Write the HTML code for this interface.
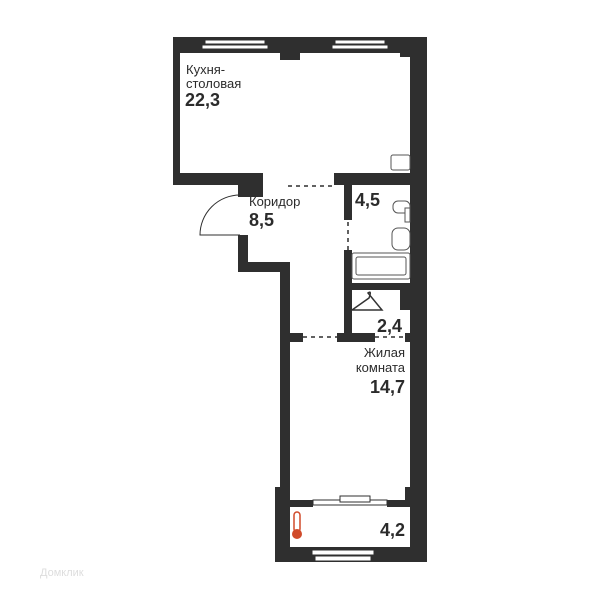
<!DOCTYPE html>
<html><head><meta charset="utf-8"><style>html,body{margin:0;padding:0;background:#fff}svg{display:block}text{font-family:"Liberation Sans",sans-serif;fill:#2b2b2b}</style></head><body>
<svg width="600" height="600" viewBox="0 0 600 600" xmlns="http://www.w3.org/2000/svg">
<g fill="#2f2f2f">
<!-- kitchen outer -->
<rect x="173" y="37" width="254" height="16"/>
<rect x="173" y="37" width="7" height="148"/>
<rect x="410" y="37" width="17" height="525"/>
<rect x="400" y="37" width="27" height="20"/>
<rect x="280" y="50" width="20" height="10"/>
<!-- kitchen bottom wall -->
<rect x="173" y="173" width="90" height="12"/>
<rect x="334" y="173" width="93" height="12"/>
<rect x="238" y="173" width="25" height="24"/>
<!-- corridor left -->
<rect x="238" y="235" width="10" height="37"/>
<rect x="238" y="262" width="52" height="10"/>
<rect x="280" y="262" width="10" height="240"/>
<rect x="275" y="487" width="15" height="75"/>
<rect x="275" y="547" width="152" height="15"/>
<!-- bathroom wall -->
<rect x="344" y="185" width="8" height="35"/>
<rect x="344" y="250" width="8" height="92"/>
<rect x="344" y="283" width="66" height="7"/>
<rect x="400" y="290" width="12" height="20"/>
<!-- living top -->
<rect x="280" y="333" width="23" height="9"/>
<rect x="337" y="333" width="38" height="9"/>
<rect x="405" y="333" width="22" height="9"/>
<!-- living/balcony wall -->
<rect x="283" y="500" width="30" height="7"/>
<rect x="387" y="500" width="25" height="7"/>
<rect x="405" y="487" width="22" height="20"/>
</g>
<!-- windows -->
<g fill="#fff" stroke="#2f2f2f" stroke-width="1">
<rect x="205" y="40" width="60" height="4"/><rect x="202" y="45" width="66" height="4"/>
<rect x="335" y="40" width="50" height="4"/><rect x="332" y="45" width="56" height="4"/>
<rect x="313" y="500" width="74" height="5"/><rect x="340" y="496" width="30" height="6"/>
<rect x="312" y="550" width="62" height="5"/><rect x="315" y="556" width="56" height="5"/>
</g>
<!-- dashed openings -->
<g stroke="#2f2f2f" stroke-width="1.5" stroke-dasharray="4,4">
<line x1="288" y1="186" x2="334" y2="186"/>
<line x1="348" y1="222" x2="348" y2="250"/>
<line x1="303" y1="337" x2="337" y2="337"/>
<line x1="375" y1="337" x2="405" y2="337"/>
</g>
<!-- door arc -->
<path d="M240 195 A40 40 0 0 0 200 235 L240 235" fill="none" stroke="#2f2f2f" stroke-width="1"/>
<!-- fixtures -->
<g fill="#fff" stroke="#555" stroke-width="1">
<rect x="391" y="155" width="19" height="15" rx="2"/>
<rect x="393" y="201" width="17" height="12" rx="5"/><rect x="405" y="208" width="5" height="14"/>
<rect x="392" y="228" width="18" height="22" rx="6"/>
<rect x="352" y="253" width="58" height="26" rx="2"/><rect x="356" y="257" width="50" height="18" rx="2"/>
</g>
<path d="M368 293 q4 -3 1 5 L352 310 h30 z" fill="none" stroke="#333" stroke-width="1.5"/>
<!-- thermometer -->
<rect x="294" y="512" width="6" height="20" rx="3" fill="none" stroke="#d04a2a" stroke-width="1.5"/>
<circle cx="297" cy="534" r="5" fill="#d04a2a"/>
<!-- labels -->
<text x="186" y="74" font-size="13">Кухня-</text>
<text x="186" y="88" font-size="13">столовая</text>
<text x="185" y="106" font-size="18" font-weight="bold">22,3</text>
<text x="249" y="206" font-size="13">Коридор</text>
<text x="249" y="226" font-size="18" font-weight="bold">8,5</text>
<text x="355" y="206" font-size="18" font-weight="bold">4,5</text>
<text x="377" y="332" font-size="18" font-weight="bold">2,4</text>
<text x="405" y="357" font-size="13" text-anchor="end">Жилая</text>
<text x="405" y="372" font-size="13" text-anchor="end">комната</text>
<text x="405" y="393" font-size="18" font-weight="bold" text-anchor="end">14,7</text>
<text x="405" y="536" font-size="18" font-weight="bold" text-anchor="end">4,2</text>
<text x="40" y="576" font-size="11" style="fill:#ddd">Домклик</text>
</svg>
</body></html>
